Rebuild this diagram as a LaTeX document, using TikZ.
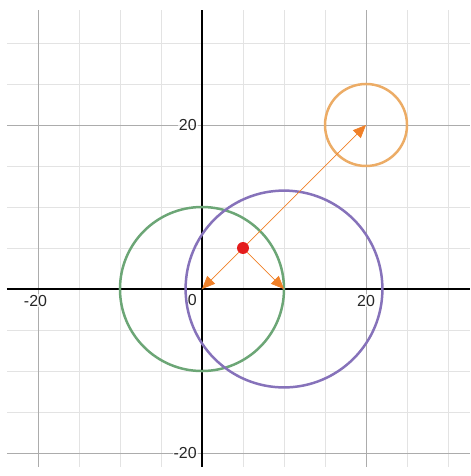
\documentclass[tikz,border=0pt]{standalone}
\usepackage{fontspec}
\setmainfont{Liberation Sans}
\usetikzlibrary{arrows.meta}
\definecolor{circgreen}{RGB}{108,166,118}
\definecolor{circpurple}{RGB}{134,114,186}
\definecolor{circorange}{RGB}{236,172,102}
\definecolor{vecorange}{RGB}{240,128,40}
\definecolor{dotred}{RGB}{228,28,28}

\begin{document}
\begin{tikzpicture}[x=0.2893cm, y=0.2893cm,
    minor/.style={gray!22, line width=0.6pt},
    major/.style={gray!65, line width=0.9pt},
    axis/.style={black, line width=1.3pt},
    circ/.style={line width=2.5pt},
    vec/.style={-{Triangle[length=13pt,width=11pt]}, vecorange, line width=0.7pt},
    dot/.style={circle, fill=dotred, inner sep=0pt, minimum size=12pt},
    ticklbl/.style={font=\fontsize{16}{19}\selectfont, text=black!85,
                    fill=white, fill opacity=0.7, text opacity=1, inner sep=1pt}
  ]
    \useasboundingbox (-24.63,-22.8) rectangle (32.68,35.24);

    % grid
    \foreach \x in {-15,-10,-5,5,10,15,25,30}
      \draw[minor] (\x,-21.7) -- (\x,34);
    \foreach \y in {-15,-10,-5,5,10,15,25,30}
      \draw[minor] (-23.8,\y) -- (32.68,\y);
    \foreach \x in {-20,20}
      \draw[major] (\x,-21.7) -- (\x,34);
    \foreach \y in {-20,20}
      \draw[major] (-23.8,\y) -- (32.68,\y);
    \draw[axis] (-23.8,0) -- (32.68,0);
    \draw[axis] (0,-21.7) -- (0,34);

    % tick labels
    \node[ticklbl, anchor=north] (xm20) at (-20.3,-0.6) {-20};
    \node[ticklbl, anchor=north] (xp20) at (20,-0.6)    {20};
    \node[ticklbl, anchor=north east] (zero) at (-0.5,-0.5) {0};
    \node[ticklbl, anchor=east]  (yp20) at (-0.5,20)    {20};
    \node[ticklbl, anchor=east]  (ym20) at (-0.5,-20)   {-20};

    % circles
    \draw[circ, circgreen]  (0,0)   circle[radius=10];
    \draw[circ, circpurple] (10,0)  circle[radius=12];
    \draw[circ, circorange] (20,20) circle[radius=5];

    % vectors
    \coordinate (orig) at (0,0);
    \coordinate (ctra) at (10,0);
    \coordinate (ctrb) at (20,20);
    \node[dot] (pt) at (5,5) {};
    \draw[vec] (pt) -- (orig);
    \draw[vec] (pt) -- (ctra);
    \draw[vec] (pt) -- (ctrb);
  \end{tikzpicture}
\end{document}
